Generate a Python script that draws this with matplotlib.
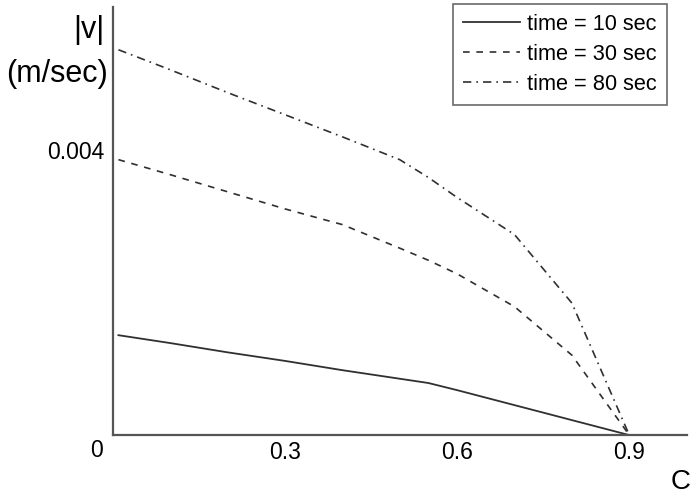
import numpy as np
import matplotlib
matplotlib.use('Agg')
import matplotlib.pyplot as plt

plt.rcParams['font.family'] = ['Liberation Sans', 'DejaVu Sans']

# concentration C
c = [0.01, 0.1, 0.2, 0.3, 0.4, 0.5, 0.55, 0.6, 0.7, 0.8, 0.9]

# |v| (m/sec) for each time
v_10 = [0.00140, 0.00129, 0.00116, 0.00104, 0.00091, 0.00079, 0.00073, 0.00063, 0.00042, 0.00021, 0.0]
v_30 = [0.00386, 0.00365, 0.00341, 0.00317, 0.00295, 0.00262, 0.00245, 0.00226, 0.00180, 0.00112, 0.0]
v_80 = [0.00540, 0.00512, 0.00480, 0.00449, 0.00418, 0.00386, 0.00361, 0.00333, 0.00281, 0.00185, 0.0]

labels = ['time = 10 sec', 'time = 30 sec', 'time = 80 sec']

fig = plt.figure(figsize=(7, 4.95), dpi=100)
ax = fig.add_axes([0.161, 0.121, 0.82, 0.865])

lc = '#303030'
ax.plot(c, v_10, '-', color=lc, lw=1.3, label=labels[0])
ax.plot(c, v_30, color=lc, lw=1.2, dashes=(4, 4), label=labels[1])
ax.plot(c, v_80, color=lc, lw=1.2, dashes=(5, 3, 1, 3), label=labels[2])

ax.set_xlim(0, 1.0)
ax.set_ylim(0, 0.006)

ax.spines['top'].set_visible(False)
ax.spines['right'].set_visible(False)
for s in ['left', 'bottom']:
    ax.spines[s].set_color('#555555')
    ax.spines[s].set_linewidth(1.6)

ax.set_xticks([0.3, 0.6, 0.9])
ax.set_xticklabels(['0.3', '0.6', '0.9'])
ax.set_yticks([0.004])
ax.set_yticklabels(['0.004'])
ax.tick_params(length=0, labelsize=16.5)
ax.tick_params(axis='x', pad=4)
ax.tick_params(axis='y', pad=6)

# corner zero
ax.annotate('0', xy=(0, 0), xycoords='axes fraction', xytext=(-16, -15),
            textcoords='offset pixels', ha='center', va='center', fontsize=16.5)

# axis labels
fig.text(105 / 700, 1 - 30 / 495, '|v|', ha='right', va='center', fontsize=22)
fig.text(108 / 700, 1 - 74 / 495, '(m/sec)', ha='right', va='center', fontsize=22)
fig.text(681 / 700, 1 - 482 / 495, 'C', ha='center', va='center', fontsize=20)

leg = ax.legend(loc='upper right', bbox_to_anchor=(667 / 700, 1 - 4 / 495),
                bbox_transform=fig.transFigure, fontsize=15.7, frameon=True,
                fancybox=False, handlelength=2.6, handletextpad=0.35,
                borderpad=0.45, labelspacing=0.42, borderaxespad=0)
leg.get_frame().set_edgecolor('#444444')
leg.get_frame().set_linewidth(1.2)

fig.savefig('out.png', dpi=100)
